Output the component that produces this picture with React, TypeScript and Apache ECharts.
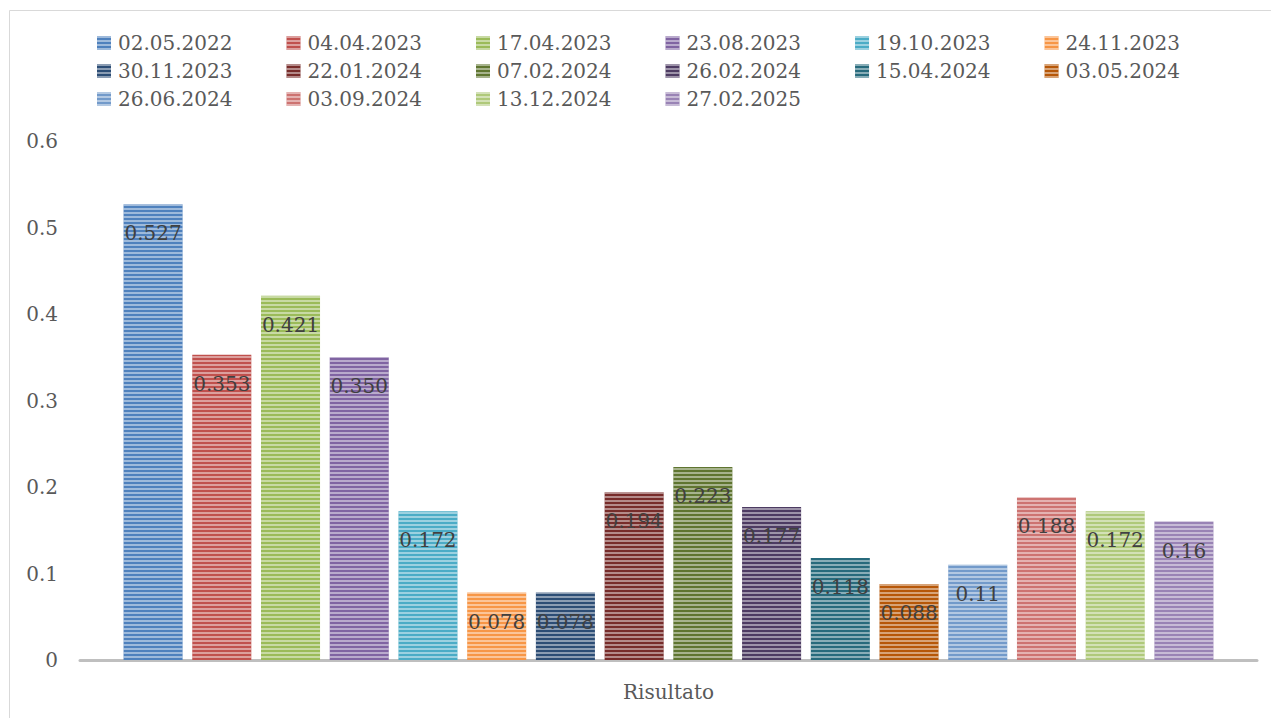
import React, { useEffect, useRef } from "react";
import * as echarts from "echarts";

const categories = ["Risultato"];
const seriesNames = [
  "02.05.2022", "04.04.2023", "17.04.2023", "23.08.2023", "19.10.2023", "24.11.2023",
  "30.11.2023", "22.01.2024", "07.02.2024", "26.02.2024", "15.04.2024", "03.05.2024",
  "26.06.2024", "03.09.2024", "13.12.2024", "27.02.2025",
];
const seriesValues = [
  0.527, 0.353, 0.421, 0.35, 0.172, 0.078,
  0.078, 0.194, 0.223, 0.177, 0.118, 0.088,
  0.11, 0.188, 0.172, 0.16,
];
const valueLabels = [
  "0.527", "0.353", "0.421", "0.350", "0.172", "0.078",
  "0.078", "0.194", "0.223", "0.177", "0.118", "0.088",
  "0.11", "0.188", "0.172", "0.16",
];
const yTicks = ["0", "0.1", "0.2", "0.3", "0.4", "0.5", "0.6"];

const colors = [
  "#4F81BD", "#C0504D", "#9BBB59", "#8064A2", "#4BACC6", "#F79646",
  "#2C4D75", "#772C2A", "#5F7530", "#4D3B62", "#276A7C", "#B65708",
  "#729ACA", "#CD7371", "#AFC97A", "#9983B5",
];

const FONT = "DejaVu Serif";

export default function App() {
  const ref = useRef<HTMLDivElement>(null);
  useEffect(() => {
    if (!ref.current) return;
    const chart = echarts.init(ref.current, undefined, { renderer: "svg" });
    const legendRows = [0, 1, 2].map((r) => ({
      show: true,
      orient: "horizontal",
      left: 89,
      top: 23 + r * 28,
      padding: 0,
      itemWidth: 14,
      itemHeight: 14,
      itemGap: 54,
      icon: "rect",
      data: seriesNames.slice(r * 6, r * 6 + 6),
      textStyle: { fontFamily: FONT, fontSize: 20, color: "#595959", lineHeight: 24, padding: [0, 0, 0, 2] },
      selectedMode: false,
    }));
    chart.setOption({
      animation: false,
      aria: { enabled: false },
      color: colors,
      legend: legendRows,
      graphic: [
        { type: "line", shape: { x1: 1.5, y1: 2.5, x2: 1.5, y2: 720 }, style: { stroke: "#d9d9d9", lineWidth: 1 } },
        { type: "line", shape: { x1: 1.5, y1: 2.5, x2: 1300, y2: 2.5 }, style: { stroke: "#d9d9d9", lineWidth: 1 } },
      ],
      grid: { left: 72, right: 22, top: 133, bottom: 58, containLabel: false },
      xAxis: {
        type: "category",
        data: categories,
        axisLine: { show: true, lineStyle: { color: "#BFBFBF", width: 3 } },
        axisTick: { show: false },
        axisLabel: { fontFamily: FONT, fontSize: 20, color: "#595959", margin: 22 },
      },
      yAxis: {
        type: "value",
        min: 0,
        max: 0.6,
        interval: 0.1,
        splitLine: { show: false },
        axisLine: { show: false },
        axisTick: { show: false },
        axisLabel: {
          fontFamily: FONT,
          fontSize: 20,
          color: "#595959",
          margin: 22,
          formatter: (v: number) => yTicks[Math.round(v * 10)] ?? String(v),
        },
      },
      series: seriesNames.map((name, i) => ({
        type: "bar",
        name,
        data: [seriesValues[i]],
        barCategoryGap: "7.4%",
        barGap: "16.4%",
        itemStyle: {
          color: colors[i],
          decal: {
            symbol: "rect",
            symbolSize: 1,
            dashArrayX: [1, 0],
            dashArrayY: [2, 2],
            color: "rgba(255,255,255,0.45)",
            rotation: 0,
          },
        },
        label: {
          show: true,
          position: "insideTop",
          distance: 18,
          fontFamily: FONT,
          fontSize: 20,
          lineHeight: 22,
          color: "#404040",
          formatter: () => valueLabels[i],
        },
      })),
    });
    return () => chart.dispose();
  }, []);
  return <div ref={ref} style={{ width: 1271, height: 710 }} />;
}
